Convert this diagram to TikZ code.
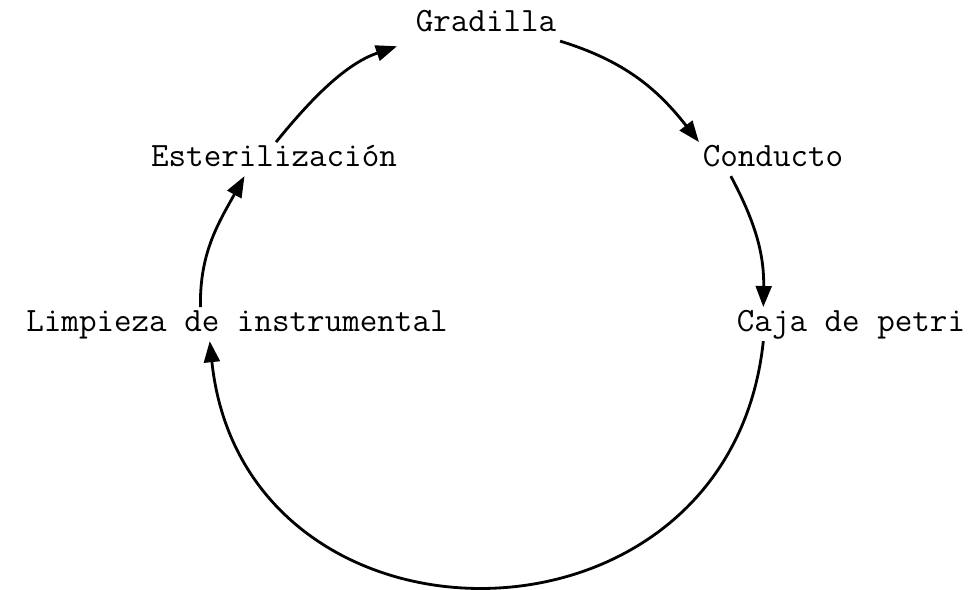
\documentclass[tikz,border=0pt]{standalone}
\usetikzlibrary{arrows.meta}
\begin{document}
\begin{tikzpicture}[x=0.02cm,y=-0.02cm,
  lbl/.style={font=\ttfamily\fontsize{19.4}{22}\selectfont, anchor=base,
    inner sep=2pt, text height=12pt, text depth=3pt},
  flow/.style={-{Triangle[length=12pt,width=9pt]}, line width=1.6pt}]
  \useasboundingbox (0,0) rectangle (971,590);

  \node[lbl] (grad) at (486,32) {Gradilla};
  \node[lbl] (cond) at (773,167) {Conducto};
  \node[lbl] (caja) at (851,332) {Caja de petri};
  \node[lbl] (limp) at (237,332) {Limpieza de instrumental};
  \node[lbl] (est) at (274,167) {Esterilización};

  \draw[flow] (grad.south east) to[out=-17,in=128] (cond.north west);
  \draw[flow] (cond.202) to[out=-62,in=89] (caja.169);
  \draw[flow] (caja.191) to[out=-96,in=-84,looseness=1.52] (limp.212);
  \draw[flow] (limp.155) to[out=91,in=-119] (est.210);
  \draw[flow,shorten >=9pt] (est.83) to[out=51,in=-161] (grad.south west);
\end{tikzpicture}
\end{document}
